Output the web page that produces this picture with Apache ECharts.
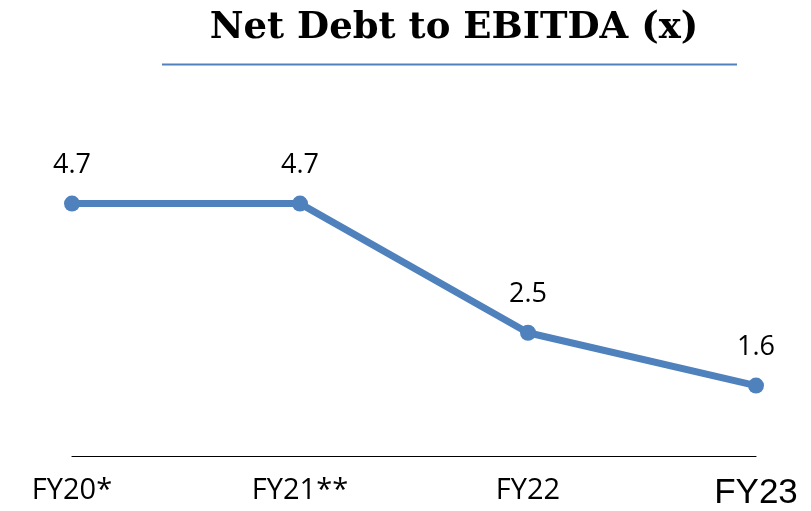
<!DOCTYPE html>
<html>
<head>
<meta charset="utf-8">
<script src="https://cdn.jsdelivr.net/npm/echarts@6/dist/echarts.min.js"></script>
<style>
  html, body { margin: 0; padding: 0; background: #ffffff; }
  #chart { width: 811px; height: 511px; }
</style>
</head>
<body>
<div id="chart"></div>
<script>
// Fiscal years and leverage ratio (net debt / EBITDA, times)
const categories = ['FY20*', 'FY21**', 'FY22', 'FY23'];
const ratios = [4.7, 4.7, 2.5, 1.6];
const titleText = 'Net Debt to EBITDA (x)';

const chart = echarts.init(document.getElementById('chart'), null, { renderer: 'canvas' });

chart.setOption({
  animation: false,
  backgroundColor: '#ffffff',
  title: {
    text: titleText,
    left: 449,
    textAlign: 'center',
    top: 5,
    textStyle: {
      fontFamily: 'DejaVu Serif',
      fontWeight: 'bold',
      fontSize: 37,
      color: '#000000'
    }
  },
  graphic: [{
    type: 'line',
    shape: { x1: 162, y1: 64.5, x2: 737, y2: 64.5 },
    style: { stroke: '#4f81bd', lineWidth: 2 }
  }],
  grid: { left: 72, right: 55, top: 186, bottom: 55, containLabel: false },
  xAxis: {
    type: 'category',
    data: categories,
    boundaryGap: false,
    axisLine: { show: true, lineStyle: { color: '#000000', width: 1.2 } },
    axisTick: { show: false },
    axisLabel: {
      margin: 20,
      fontFamily: 'Open Sans',
      fontSize: 29,
      color: '#000000',
      formatter: function (v) {
        return v === 'FY23' ? '{big|' + v + '}' : v;
      },
      rich: {
        big: { fontFamily: 'Liberation Sans', fontSize: 35, color: '#000000' }
      }
    }
  },
  yAxis: {
    type: 'value',
    min: 0.4,
    max: 5.0,
    show: false,
    splitLine: { show: false }
  },
  series: [{
    type: 'line',
    data: ratios,
    symbol: 'circle',
    symbolSize: 16,
    lineStyle: { color: '#4f81bd', width: 7 },
    itemStyle: { color: '#4f81bd' },
    label: {
      show: true,
      position: 'top',
      distance: 17,
      fontFamily: 'Open Sans',
      fontSize: 27,
      color: '#000000',
      formatter: function (p) { return p.value.toFixed(1); }
    }
  }]
});
</script>
</body>
</html>
